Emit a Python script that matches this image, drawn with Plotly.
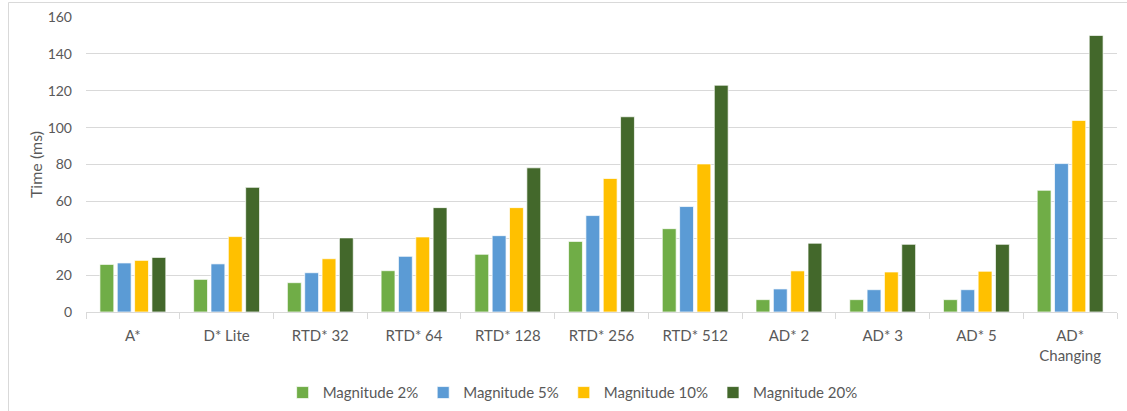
import plotly.graph_objects as go

categories = ["A*", "D* Lite", "RTD* 32", "RTD* 64", "RTD* 128", "RTD* 256",
              "RTD* 512", "AD* 2", "AD* 3", "AD* 5", "AD*<br>Changing"]
mag_2 = [25.8, 17.7, 15.9, 22.4, 31.3, 38.3, 45.2, 6.7, 6.7, 6.7, 66.0]
mag_5 = [26.6, 26.1, 21.3, 30.2, 41.4, 52.3, 57.2, 12.5, 12.1, 12.1, 80.5]
mag_10 = [28.0, 40.9, 28.9, 40.7, 56.6, 72.4, 80.3, 22.3, 21.7, 22.1, 103.9]
mag_20 = [29.6, 67.6, 40.2, 56.6, 78.2, 105.9, 123.0, 37.3, 36.7, 36.7, 150.0]

series = [
    ("Magnitude 2%", mag_2, "#70AD47"),
    ("Magnitude 5%", mag_5, "#5B9BD5"),
    ("Magnitude 10%", mag_10, "#FFC000"),
    ("Magnitude 20%", mag_20, "#43682B"),
]

FONT = "Lato, Liberation Sans, Arial, sans-serif"
GREY = "#595959"

fig = go.Figure()
for name, vals, color in series:
    fig.add_trace(go.Bar(
        x=categories, y=vals, name=name,
        marker=dict(color=color, line=dict(color="white", width=0.7)),
    ))

W, H = 1127, 411
ml, mr, mt, mb = 86, 10, 17, 99
pw, ph = W - ml - mr, H - mt - mb

fig.update_layout(
    width=W, height=H,
    margin=dict(l=ml, r=mr, t=mt, b=mb, autoexpand=False),
    barmode="group", bargap=0.26, bargroupgap=0.2,
    plot_bgcolor="white", paper_bgcolor="white",
    font=dict(family=FONT, color=GREY, size=14),
    legend=dict(orientation="h", x=0.472, xanchor="center", y=-0.218, yanchor="top",
                font=dict(family=FONT, size=15, color=GREY),
                bgcolor="rgba(0,0,0,0)",
                itemwidth=30, traceorder="normal"),
    xaxis=dict(
        type="category", showline=True, linecolor="#d9d9d9", linewidth=1,
        ticks="outside", tickson="boundaries", ticklen=6, tickcolor="#d9d9d9",
        tickfont=dict(family=FONT, size=15, color=GREY),
        ticklabelstandoff=10,
        showgrid=False, automargin=False,
    ),
    yaxis=dict(
        range=[0, 160], dtick=20, showgrid=True, gridcolor="#d9d9d9", gridwidth=1,
        zeroline=False, showline=False, automargin=False,
        tickfont=dict(family=FONT, size=14, color=GREY),
        ticklabelstandoff=13,
        title=dict(text="Time (ms)", font=dict(family=FONT, size=16, color=GREY), standoff=1),
    ),
    shapes=[dict(
        type="rect", xref="paper", yref="paper",
        x0=(8.5 - ml) / pw, x1=(W + 5 - ml) / pw,
        y0=-(mb + 5) / ph, y1=1 + (mt - 2.5) / ph,
        line=dict(color="#d9d9d9", width=1), fillcolor="rgba(0,0,0,0)", layer="below",
    )],
)

fig.write_html("out.html", config={"displayModeBar": False},
               post_script="document.body.style.margin='0';")
